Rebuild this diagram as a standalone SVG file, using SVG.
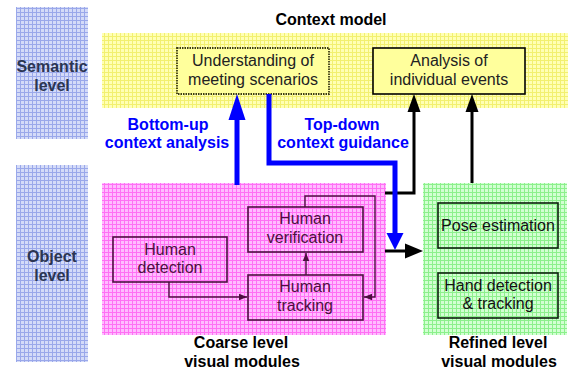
<svg xmlns="http://www.w3.org/2000/svg" width="571" height="372" viewBox="0 0 571 372">
  <defs>
    <pattern id="gridBlue" width="4" height="4" patternUnits="userSpaceOnUse">
      <rect width="4" height="4" fill="#d4dbf8"/>
      <path d="M0 0.5H4M0.5 0V4" stroke="#9aa8ea" stroke-width="1"/>
    </pattern>
    <pattern id="gridYellow" width="4" height="4" patternUnits="userSpaceOnUse">
      <rect width="4" height="4" fill="#ffffb4"/>
      <path d="M0 0.5H4M0.5 0V4" stroke="#f2f070" stroke-width="1"/>
    </pattern>
    <pattern id="gridPink" width="4" height="4" patternUnits="userSpaceOnUse">
      <rect width="4" height="4" fill="#ffbcff"/>
      <path d="M0 0.5H4M0.5 0V4" stroke="#ff70f4" stroke-width="1"/>
    </pattern>
    <pattern id="gridGreen" width="4" height="4" patternUnits="userSpaceOnUse">
      <rect width="4" height="4" fill="#d2ffd2"/>
      <path d="M0 0.5H4M0.5 0V4" stroke="#8cf08c" stroke-width="1"/>
    </pattern>
    <marker id="headPurple" viewBox="0 0 10 10" refX="10" refY="5" markerWidth="8" markerHeight="8" markerUnits="userSpaceOnUse" orient="auto">
      <path d="M0 1L10 5L0 9Z" fill="#4d0f40"/>
    </marker>
  </defs>
  <style>
    .lvl { font-family: "Liberation Sans", Arial, sans-serif; font-weight: bold; font-size: 16px; fill: #2b3552; text-anchor: middle; }
    .title { font-family: "Liberation Sans", Arial, sans-serif; font-weight: bold; font-size: 16px; fill: #000; text-anchor: middle; }
    .flow { font-family: "Liberation Sans", Arial, sans-serif; font-weight: bold; font-size: 16px; fill: #0000ff; text-anchor: middle; }
    .box { font-family: "Liberation Sans", Arial, sans-serif; font-size: 16px; text-anchor: middle; }
    .yel { fill: #222; }
    .pur { fill: #4d0f40; }
    .grn { fill: #111; }
    .pbox { fill: none; stroke: #4d0f40; stroke-width: 1.6; }
    .gbox { fill: none; stroke: #0d200d; stroke-width: 1.6; }
    .pline { fill: none; stroke: #4d0f40; stroke-width: 1.4; }
    .bline { fill: none; stroke: #000; stroke-width: 3; }
    .blue { fill: none; stroke: #0000ff; stroke-width: 5; }
  </style>

  <rect width="571" height="372" fill="#fff"/>

  <!-- level columns -->
  <g id="semantic-level">
    <rect x="16" y="7" width="72" height="132" fill="url(#gridBlue)"/>
    <text class="lvl" x="52" y="72">Semantic</text>
    <text class="lvl" x="52" y="91">level</text>
  </g>
  <g id="object-level">
    <rect x="16" y="165" width="72" height="197" fill="url(#gridBlue)"/>
    <text class="lvl" x="52" y="262">Object</text>
    <text class="lvl" x="52" y="281">level</text>
  </g>

  <!-- module areas -->
  <g id="context-model">
    <rect x="102" y="33" width="466" height="75" fill="url(#gridYellow)"/>
    <text class="title" x="331" y="25">Context model</text>
  </g>
  <g id="coarse-modules">
    <rect x="102" y="183" width="284" height="152" fill="url(#gridPink)"/>
    <text class="title" x="241" y="348">Coarse level</text>
    <text class="title" x="242" y="367">visual modules</text>
  </g>
  <g id="refined-modules">
    <rect x="423" y="183" width="144" height="152" fill="url(#gridGreen)"/>
    <text class="title" x="498" y="348">Refined level</text>
    <text class="title" x="499" y="367">visual modules</text>
  </g>

  <!-- semantic nodes -->
  <g id="understanding">
    <rect x="177" y="48" width="152" height="46" fill="#ffff9c" stroke="#3c3c14" stroke-width="1.8" stroke-dasharray="1.5 1"/>
    <text class="box yel" x="253" y="66">Understanding of</text>
    <text class="box yel" x="253" y="85">meeting scenarios</text>
  </g>
  <g id="analysis">
    <rect x="373" y="48" width="152" height="46" fill="#ffff9c" stroke="#000" stroke-width="1.6"/>
    <text class="box yel" x="449" y="66">Analysis of</text>
    <text class="box yel" x="449" y="85">individual events</text>
  </g>

  <!-- coarse nodes -->
  <g id="human-detection">
    <rect x="113" y="237" width="114" height="45" class="pbox"/>
    <text class="box pur" x="170" y="255">Human</text>
    <text class="box pur" x="170" y="273">detection</text>
  </g>
  <g id="human-verification">
    <rect x="248" y="207" width="115" height="45" class="pbox"/>
    <text class="box pur" x="305" y="224">Human</text>
    <text class="box pur" x="305" y="243">verification</text>
  </g>
  <g id="human-tracking">
    <rect x="248" y="275" width="115" height="45" class="pbox"/>
    <text class="box pur" x="305" y="292">Human</text>
    <text class="box pur" x="305" y="311">tracking</text>
  </g>

  <!-- refined nodes -->
  <g id="pose-estimation">
    <rect x="438" y="203" width="120" height="45" class="gbox"/>
    <text class="box grn" x="498" y="231">Pose estimation</text>
  </g>
  <g id="hand-detection">
    <rect x="438" y="273" width="120" height="45" class="gbox"/>
    <text class="box grn" x="498" y="291">Hand detection</text>
    <text class="box grn" x="498" y="309">&amp; tracking</text>
  </g>

  <!-- flow labels -->
  <g id="flow-labels">
    <text class="flow" x="168" y="130">Bottom-up</text>
    <text class="flow" x="167" y="148">context analysis</text>
    <text class="flow" x="342" y="130">Top-down</text>
    <text class="flow" x="343" y="148">context guidance</text>
  </g>

  <!-- connectors -->
  <g id="connectors">
    <!-- coarse module internals -->
    <path class="pline" d="M169 282V297H247" marker-end="url(#headPurple)"/>
    <path class="pline" d="M306 275V253" marker-end="url(#headPurple)"/>
    <path class="pline" d="M305 207V196H375V297H364" marker-end="url(#headPurple)"/>

    <!-- object level to semantic level -->
    <path class="bline" d="M385 193H414V112"/>
    <path d="M414 94L407.5 112H420.5Z" fill="#000"/>
    <path class="bline" d="M472 183V112"/>
    <path d="M472 94L465.5 112H478.5Z" fill="#000"/>

    <!-- coarse to refined -->
    <path class="bline" d="M385 251H405"/>
    <path d="M423 251L405 243.5V258.5Z" fill="#000"/>

    <!-- bottom-up analysis -->
    <path class="blue" d="M237 185V118"/>
    <path d="M237 94L228.5 120H245.5Z" fill="#0000ff"/>

    <!-- top-down guidance -->
    <path class="blue" d="M269 94V163H395V234" stroke-linejoin="miter"/>
    <path d="M395 250L386.5 233H403.5Z" fill="#0000ff"/>
  </g>
</svg>
